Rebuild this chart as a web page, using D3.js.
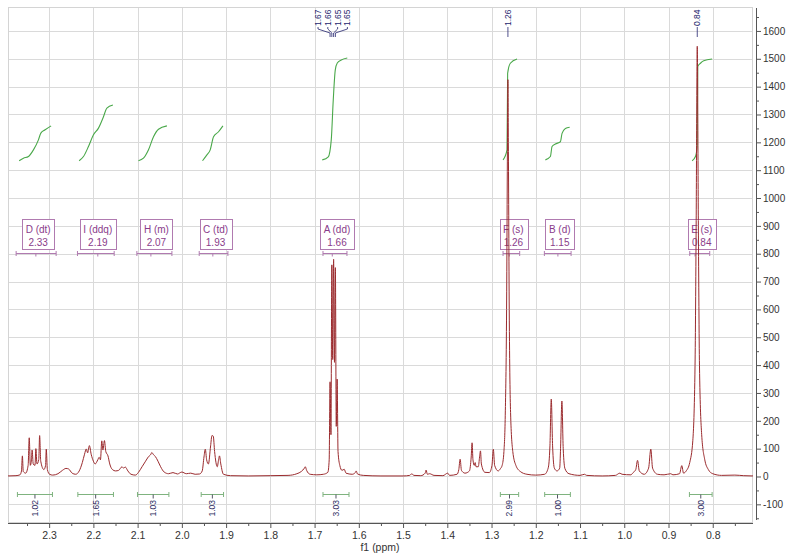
<!DOCTYPE html>
<html><head><meta charset="utf-8">
<script src="https://cdn.jsdelivr.net/npm/d3@7"></script>
<style>body{margin:0;background:#fff}svg{display:block}</style>
</head><body><svg id="c" width="800" height="559"></svg>
<script>
// ---- DATA ----
// spectrum trace: [ppm, intensity]
const spectrum = [
[2.393,2],[2.375,3],[2.366,6],[2.3625,20],[2.3605,74],[2.3585,18],[2.353,12],[2.3475,40],[2.345,139],[2.3425,40],
[2.340,60],[2.3385,95],[2.336,45],[2.332,40],[2.330,100],[2.3275,45],[2.3235,60],[2.3215,147],[2.319,55],[2.312,25],
[2.308,40],[2.3065,98],[2.304,25],[2.299,8],[2.292,5],[2.280,10],[2.270,22],[2.262,29],[2.256,27],[2.248,12],[2.240,8],
[2.232,20],[2.225,50],[2.220,80],[2.216,99],[2.213,85],[2.209,111],[2.205,80],[2.200,55],[2.196,45],[2.190,60],
[2.187,69],[2.184,60],[2.181,128],[2.1785,95],[2.175,129],[2.172,90],[2.167,74],[2.163,45],[2.157,25],[2.150,20],
[2.143,22],[2.135,35],[2.132,30],[2.128,34],[2.122,20],[2.115,8],[2.105,5],
[2.098,15],[2.090,35],[2.082,55],[2.076,70],[2.070,80],[2.068,86],[2.064,78],[2.060,72],[2.054,55],[2.048,35],
[2.040,16],[2.030,10],[2.020,14],[2.010,9],[2.000,16],[1.990,10],[1.980,12],[1.970,8],[1.960,9],
[1.954,20],[1.950,70],[1.947,98],[1.944,60],[1.940,45],[1.935,110],[1.932,147],[1.929,145],[1.926,90],[1.920,35],
[1.917,60],[1.915,74],[1.912,45],[1.906,8],[1.890,3],[1.850,2],[1.800,3],[1.760,4],[1.740,10],[1.730,18],
[1.723,30],[1.721,35],[1.718,22],[1.710,8],[1.695,6],[1.680,8],
[1.670,15],[1.667,60],[1.665,340],[1.663,150],[1.661,760],[1.659,420],[1.657,780],[1.655,410],[1.653,750],
[1.651,180],[1.649,350],[1.647,90],[1.643,40],[1.638,22],[1.633,26],[1.629,12],[1.615,8],[1.608,14],[1.606,20],
[1.603,9],[1.590,4],[1.550,2],[1.500,2],[1.485,4],[1.480,10],[1.476,4],[1.460,3],[1.450,12],[1.448,23],[1.445,8],
[1.440,10],[1.430,4],[1.410,3],[1.399,12],[1.395,4],[1.378,8],[1.374,25],[1.371,62],[1.368,22],[1.360,12],
[1.350,20],[1.346,70],[1.344,121],[1.342,60],[1.339,40],[1.337,50],[1.335,35],[1.330,35],[1.327,70],[1.325,92],
[1.323,45],[1.315,15],[1.305,14],[1.299,40],[1.296,98],[1.293,40],[1.285,20],[1.280,28],[1.276,40],[1.272,90],
[1.269,220],[1.266,600],[1.264,1200],[1.263,1425],[1.262,1200],[1.260,600],[1.257,230],[1.252,90],[1.245,40],
[1.235,18],[1.220,8],[1.200,5],[1.180,8],[1.172,30],[1.168,110],[1.165,278],[1.162,110],[1.158,30],[1.152,20],
[1.146,30],[1.144,100],[1.141,271],[1.138,100],[1.134,28],[1.125,10],[1.100,4],[1.090,8],[1.085,4],[1.050,2],
[1.020,4],[1.010,12],[1.005,8],[0.985,6],[0.980,14],[0.974,25],[0.970,58],[0.966,20],[0.955,8],[0.945,30],
[0.940,98],[0.936,30],[0.925,8],[0.910,6],[0.895,10],[0.890,6],[0.875,10],[0.870,39],[0.866,12],[0.860,20],
[0.852,50],[0.845,130],[0.840,400],[0.8375,900],[0.835,1545],[0.8325,900],[0.830,400],[0.825,150],[0.818,60],
[0.810,25],[0.800,10],[0.780,4],[0.750,5],[0.730,3],[0.709,2]
];

// integral curves [ppm, value on intensity axis]
const intD = [[2.3678,1134],[2.3581,1143],[2.3468,1149],[2.3355,1173],[2.3242,1209],[2.3188,1233],[2.309,1245],[2.2955,1259]];
const intI = [[2.2322,1134],[2.2224,1149],[2.2111,1185],[2.1998,1227],[2.1885,1251],[2.1772,1292],[2.1695,1323],[2.1559,1334]];
const intH = [[2.0981,1134],[2.0868,1143],[2.0754,1173],[2.0641,1220],[2.0528,1247],[2.0338,1259]];
const intC = [[1.9533,1134],[1.9434,1155],[1.9359,1173],[1.9284,1220],[1.9171,1238],[1.9072,1259]];
const intA = [[1.6826,1137],[1.669,1148],[1.6623,1209],[1.6578,1352],[1.6532,1460],[1.6487,1485],[1.6397,1496],[1.6261,1503]];
const intF = [[1.274,1137],[1.265,1173],[1.2636,1448],[1.2575,1484],[1.2424,1499]];
const intB = [[1.1783,1137],[1.167,1149],[1.1632,1185],[1.1557,1194],[1.1444,1202],[1.1406,1232],[1.1331,1250],[1.1234,1254]];
const intE = [[0.8466,1134],[0.8391,1149],[0.8353,1185],[0.8339,1472],[0.8278,1484],[0.8204,1493],[0.8014,1499]];
const integralCurves = [intD,intI,intH,intC,intA,intF,intB,intE];

// multiplets
const multipletNames  = ["D (dt)","I (ddq)","H (m)","C (td)","A (dd)","F (s)","B (d)","E (s)"];
const multipletShifts = ["2.33","2.19","2.07","1.93","1.66","1.26","1.15","0.84"];
const multipletRanges = [[2.3746,2.2842],[2.236,2.153],[2.1017,2.0225],[1.9608,1.8959],[1.681,1.6268],[1.274,1.2364],[1.1806,1.1202],[0.852,0.8068]];

// integration regions
const integValues = ["1.02","1.65","1.03","1.03","3.03","2.99","1.00","3.00"];
const integRanges = [[2.3717,2.2925],[2.2351,2.1546],[2.1003,2.0293],[1.9563,1.9058],[1.681,1.6222],[1.2801,1.2387],[1.1799,1.1218],[0.8527,0.8014]];

// peak picking labels (groups)
const peakGroups = [
  {labels:["1.67","1.66","1.65","1.65"], ppm:[1.665,1.661,1.657,1.653]},
  {labels:["1.26"], ppm:[1.263]},
  {labels:["0.84"], ppm:[0.835]}
];

const xTickLabels = ["2.3","2.2","2.1","2.0","1.9","1.8","1.7","1.6","1.5","1.4","1.3","1.2","1.1","1.0","0.9","0.8"];
const yTickLabels = [-100,0,100,200,300,400,500,600,700,800,900,1000,1100,1200,1300,1400,1500,1600];

// ---- DRAW ----
const svg = d3.select('#c');
svg.append('rect').attr('width',800).attr('height',559).attr('fill','#fff');
const x = d3.scaleLinear().domain([2.393,0.709]).range([8,753]);
const y = d3.scaleLinear().domain([-167,1686]).range([523,7]);
const FONT = "'Liberation Sans', Arial, sans-serif";
const xMajor = xTickLabels.map(Number);
const xMinor = xMajor.map(v=>+(v+0.05).toFixed(2)).concat([0.75]).filter(v=>v<2.39&&v>0.71);

// grid
const grid = svg.append('g').attr('stroke','#dadada').attr('stroke-width',1);
grid.selectAll('line.v').data(xMajor).join('line')
  .attr('x1',d=>Math.round(x(d))+0.5).attr('x2',d=>Math.round(x(d))+0.5).attr('y1',7).attr('y2',523);
grid.selectAll('line.h').data(yTickLabels).join('line')
  .attr('x1',8).attr('x2',753).attr('y1',d=>Math.round(y(d))+0.5).attr('y2',d=>Math.round(y(d))+0.5);
svg.append('rect').attr('x',8.5).attr('y',7.5).attr('width',744).attr('height',515)
  .attr('fill','none').attr('stroke','#d4d4d4');

// multiplet boxes
const mColor = '#8a3c8a', mBorder = '#b07ab0';
multipletNames.forEach((nm,i)=>{
  const r = multipletRanges[i];
  const cx = (x(r[0])+x(r[1]))/2 + 2;
  const g = svg.append('g');
  const rect = g.append('rect').attr('fill','#fff').attr('stroke',mBorder).attr('stroke-width',1);
  const t1 = g.append('text').attr('x',cx).attr('y',229).attr('dy','0.35em').attr('text-anchor','middle')
    .attr('font-family',FONT).attr('font-size',10).attr('fill',mColor).text(nm);
  const t2 = g.append('text').attr('x',cx).attr('y',242).attr('dy','0.35em').attr('text-anchor','middle')
    .attr('font-family',FONT).attr('font-size',10).attr('fill',mColor).text(multipletShifts[i]);
  const w = Math.max(t1.node().getBBox().width, t2.node().getBBox().width) + 7;
  rect.attr('x',Math.round(cx-w/2)+0.5).attr('y',219.5).attr('width',Math.round(w)).attr('height',30);
  const yb = Math.round(y(800))-0.5;
  const br = svg.append('g').attr('stroke',mBorder).attr('stroke-width',1);
  br.append('line').attr('x1',x(r[0])).attr('x2',x(r[1])).attr('y1',yb).attr('y2',yb);
  br.append('line').attr('x1',x(r[0])).attr('x2',x(r[0])).attr('y1',yb-2.5).attr('y2',yb+2.5);
  br.append('line').attr('x1',x(r[1])).attr('x2',x(r[1])).attr('y1',yb-2.5).attr('y2',yb+2.5);
  const sx = x(+multipletShifts[i]);
  br.append('line').attr('x1',sx).attr('x2',sx).attr('y1',yb).attr('y2',yb+3);
});

// integral curves
const lineGen = d3.line().x(d=>x(d[0])).y(d=>y(d[1])).curve(d3.curveMonotoneX);
svg.append('g').selectAll('path').data(integralCurves).join('path')
  .attr('d',lineGen).attr('fill','none').attr('stroke','#4aa84a').attr('stroke-width',1.1);

// spectrum
svg.append('path').datum(spectrum).attr('d',lineGen).attr('fill','none')
  .attr('stroke','#9b2b2e').attr('stroke-width',1);

// peak labels
const pColor = '#25256e';
peakGroups.forEach(gp=>{
  const n = gp.labels.length;
  const center = d3.mean(gp.ppm.map(p=>x(p)));
  gp.labels.forEach((lb,i)=>{
    const lx = n>1 ? center + (i-(n-1)/2)*9.8 : x(gp.ppm[i]);
    const px = x(gp.ppm[i]);
    svg.append('text').attr('transform',`translate(${lx},26) rotate(-90)`).attr('dy','0.35em')
      .attr('font-family',FONT).attr('font-size',8.5).attr('fill',pColor).text(lb);
    svg.append('path').attr('d',`M${lx},27 L${lx},29 L${px},33 L${px},37`)
      .attr('fill','none').attr('stroke',pColor).attr('stroke-width',0.8);
  });
});

// integration bars
const iColor = '#7fb37f';
integValues.forEach((v,i)=>{
  const r = integRanges[i];
  const x0 = x(r[0]), x1 = x(r[1]), cx = (x0+x1)/2, yb = 494.5;
  const g = svg.append('g').attr('stroke',iColor).attr('stroke-width',1);
  g.append('line').attr('x1',x0).attr('x2',x1).attr('y1',yb).attr('y2',yb);
  g.append('line').attr('x1',x0).attr('x2',x0).attr('y1',yb-2.5).attr('y2',yb+2.5);
  g.append('line').attr('x1',x1).attr('x2',x1).attr('y1',yb-2.5).attr('y2',yb+2.5);
  g.append('line').attr('x1',cx).attr('x2',cx).attr('y1',yb).attr('y2',yb+4).attr('stroke','#556');
  svg.append('text').attr('transform',`translate(${cx},500) rotate(-90)`).attr('dy','0.35em')
    .attr('text-anchor','end').attr('font-family',FONT).attr('font-size',8.5).attr('fill','#2b2b5e').text(v);
});

// axes
const axCol = '#555';
const xAxMinor = svg.append('g').attr('transform','translate(0,523)')
  .call(d3.axisBottom(x).tickValues(xMinor).tickSize(3).tickFormat(''));
const xAx = svg.append('g').attr('transform','translate(0,523)')
  .call(d3.axisBottom(x).tickValues(xMajor).tickSize(5).tickPadding(4).tickFormat((d,i)=>xTickLabels[i]));
[xAxMinor,xAx].forEach(a=>{a.selectAll('path,line').attr('stroke',axCol);});
xAxMinor.select('.domain').remove();
xAx.select('.domain').attr('d','M8,0.5H753');
xAx.selectAll('text').attr('font-family',FONT).attr('font-size',10.5).attr('fill','#333');

const yMinor = d3.range(-150,1700,100);
const yAxMinor = svg.append('g').attr('transform','translate(756,0)')
  .call(d3.axisRight(y).tickValues(yMinor).tickSize(3).tickFormat(''));
const yAx = svg.append('g').attr('transform','translate(756,0)')
  .call(d3.axisRight(y).tickValues(yTickLabels).tickSize(5).tickPadding(2).tickFormat(d=>d));
[yAxMinor,yAx].forEach(a=>{a.selectAll('path,line').attr('stroke',axCol);});
yAxMinor.select('.domain').remove();
yAx.select('.domain').attr('d','M0.5,8V520');
yAx.selectAll('text').attr('font-family',FONT).attr('font-size',10).attr('fill','#333');

svg.append('text').attr('x',380).attr('y',547).attr('dy','0.35em').attr('text-anchor','middle')
  .attr('font-family',FONT).attr('font-size',10.5).attr('fill','#333').text('f1 (ppm)');
</script></body></html>
